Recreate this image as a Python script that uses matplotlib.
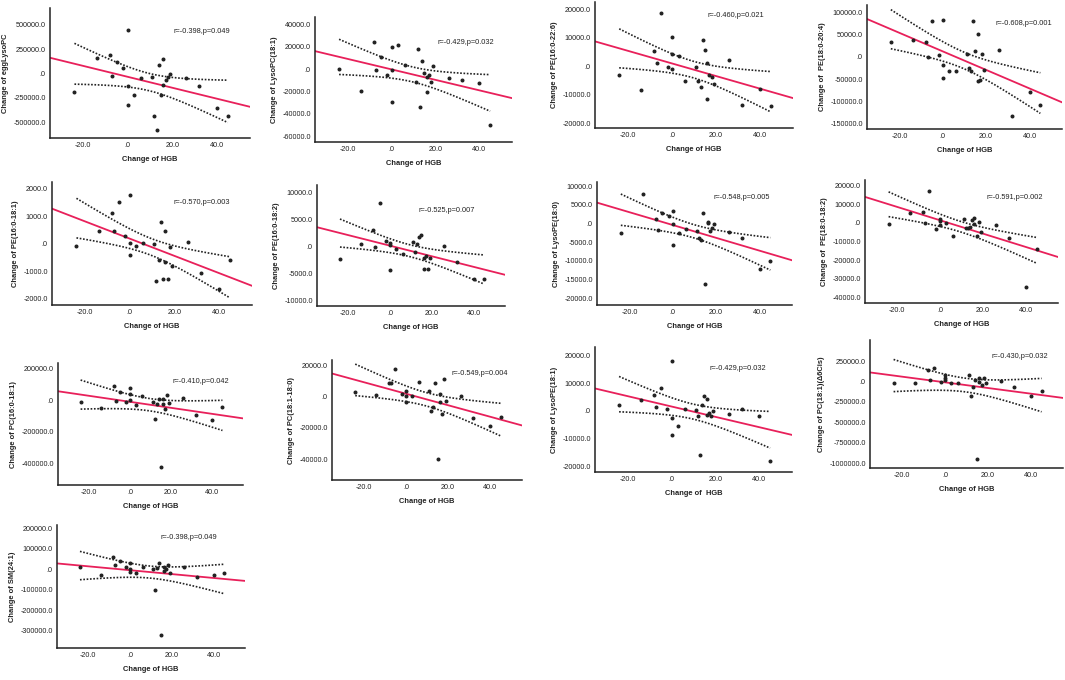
import numpy as np
import matplotlib.pyplot as plt

plt.rcParams['font.family'] = ['Liberation Sans', 'DejaVu Sans']

# change of HGB, same subjects in every panel
hgb = [-24, -14, -8, -7, -5, -2, 0, 0, 0, 3, 6, 11, 12, 13, 14, 15, 16, 16, 17, 18, 19, 26, 32, 40, 45]

# change of each lipid, same subject order as hgb
egglysopc = [-190000, 160000, 185000, -25000, 120000, 55000, 450000, -130000, -320000, -225000, -50000,
             -40000, -440000, -580000, 90000, -220000, 150000, -120000, -70000, -40000, -10000,
             -50000, -130000, -350000, -430000]
lysopc_181 = [0, -19500, 24500, -500, 10500, -5000, 19500, -1000, -29500, 22000, 3500, -11500, 18000,
              -33500, 7500, -3500, -20000, -7000, -5000, -11000, 3000, -8000, -9500, -12000, -50000]
pe_160_226 = [-2900, -8500, 5500, 1300, 18700, -100, 10400, 4500, -1000, 3800, -5000, -300, -5000,
              -7400, 9300, 5700, 1200, -11600, -3200, -3800, -6300, 2200, -13800, -8000, -14100]
pe_180_204 = [32600, 38400, 33300, 700, 80400, 3600, 83300, -17400, -47100, -32600, -31900, 5800,
              -25400, -31900, 79700, 13000, 50700, -54300, -53000, 7200, -30400, 14500, -133300,
              -79700, -107000]
pe_160_181 = [-70, 480, 1110, 460, 1510, 265, 1780, 25, -420, -70, 25, 0, -1360, -580, 780, -1270,
              480, -660, -1270, -120, -810, 80, -1050, -1630, -600]
pe_160_182 = [-2400, 370, 3090, -120, 8090, 930, 700, 300, -4300, -490, -1480, 740, -990, 370, 1730,
              2160, -4140, -2100, -1670, -4140, -2100, 60, -2840, -6000, -6000]
lysope_180 = [-2500, 7860, 1340, -1790, 2860, 1960, 3390, -180, -5800, -2500, -1340, -1960, -3840,
              -4460, 2860, -16070, 450, 180, -2050, -1070, -180, -2320, -3840, -12050, -10000]
pe_180_182 = [-700, 5400, 5900, 0, 17100, -3200, 2000, 1200, -1300, 0, -6800, 2000, -2500, -2500,
              -2300, 1800, 2900, -400, -7000, 500, -4800, -1300, -8300, -34800, -14000]
pc_160_181 = [-10600, -46800, 91500, -2100, 51000, -10600, 76600, 38300, 2100, -31900, 27700, -8500,
              -119000, -25500, 6400, -423000, 10600, -23400, -53200, 34000, -19100, 17000, -95700,
              -127700, -44700]
pc_181_180 = [2800, 600, 8500, 8500, 17700, 1700, 3400, 0, -3600, 0, 8900, 3400, -9400, -6800, 8500,
              -40200, 1300, -3600, -11100, 10900, -3000, 0, -13800, -18900, -13200]
lysope_181 = [2000, 3900, 5700, 1400, 8400, 500, 17800, -2700, -8700, -5400, 800, 200, -1700, -15900,
              2200, 5500, 4200, -1400, -700, -1900, -200, -1100, 500, -1800, -18100]
pc_181_cis = [-20500, -20500, 139000, 16400, 160000, -12300, 82000, 41000, 16400, -20500, -20500,
              73800, -176000, -73800, 16400, -955000, 41000, -8200, -41000, 37000, -24600, 8200,
              -73800, -180000, -123000]
sm_241 = [10000, -30000, 60000, 20000, 40000, 10000, 30000, 0, -15000, -20000, 10000, 0, -100000,
          5000, 30000, -320000, 10000, -10000, 0, 20000, -20000, 10000, -40000, -30000, -20000]

ylabels = ['Change of eggLysoPC', 'Change of LysoPC(18:1)', 'Change of PE(16:0-22:6)',
           'Change of  PE(18:0-20:4)', 'Change of PE(16:0-18:1)', 'Change of PE(16:0-18:2)',
           'Change of LysoPE(18:0)', 'Change of  PE(18:0-18:2)', 'Change of PC(16:0-18:1)',
           'Change of PC(18:1-18:0)', 'Change of LysoPE(18:1)', 'Change of PC(18:1)(Δ6Cis)',
           'Change of SM(24:1)']
stats = ['r=-0.398,p=0.049', 'r=-0.429,p=0.032', 'r=-0.460,p=0.021', 'r=-0.608,p=0.001',
         'r=-0.570,p=0.003', 'r=-0.525,p=0.007', 'r=-0.548,p=0.005', 'r=-0.591,p=0.002',
         'r=-0.410,p=0.042', 'r=-0.549,p=0.004', 'r=-0.429,p=0.032', 'r=-0.430,p=0.032',
         'r=-0.398,p=0.049']
series = [egglysopc, lysopc_181, pe_160_226, pe_180_204, pe_160_181, pe_160_182, lysope_180,
          pe_180_182, pc_160_181, pc_181_180, lysope_181, pc_181_cis, sm_241]
yticks = [np.arange(-500000, 500001, 250000), np.arange(-60000, 40001, 20000),
          np.arange(-20000, 20001, 10000), np.arange(-150000, 100001, 50000),
          np.arange(-2000, 2001, 1000), np.arange(-10000, 10001, 5000),
          np.arange(-20000, 10001, 5000), np.arange(-40000, 20001, 10000),
          np.arange(-400000, 200001, 200000), np.arange(-40000, 20001, 20000),
          np.arange(-20000, 20001, 10000), np.arange(-1000000, 250001, 250000),
          np.arange(-300000, 200001, 100000)]
ylims = [(-660000, 670000), (-65000, 46600), (-21750, 22700), (-161600, 116000), (-2220, 2240),
         (-11000, 11360), (-21800, 11160), (-43200, 23200), (-538000, 238000), (-53400, 23200),
         (-22050, 23000), (-1061000, 508000), (-383000, 215000)]

# axes boxes in pixels: left, right, top, bottom
boxes = [(50, 250, 8, 138), (315, 512, 17, 142), (595, 793, 2, 128), (867, 1062, 5, 129),
         (52, 252, 182, 305), (317, 505, 185, 306), (597, 792, 182, 305), (865, 1058, 180, 303),
         (58, 243, 363, 485), (332, 522, 360, 480), (595, 792, 347, 472), (870, 1063, 340, 468),
         (57, 245, 525, 648)]
text_pos = [(0.62, 0.82), (0.62, 0.80), (0.57, 0.89), (0.66, 0.85), (0.61, 0.83), (0.54, 0.79),
            (0.60, 0.87), (0.63, 0.86), (0.62, 0.85), (0.63, 0.89), (0.58, 0.83), (0.63, 0.875),
            (0.55, 0.90)]

W, H = 1065, 680
fig = plt.figure(figsize=(W / 100, H / 100), dpi=100)
t95 = 2.069  # t(0.975, df=23)


def fmt(v):
    return '.0' if v == 0 else '%.1f' % v


x = np.array(hgb, dtype=float)
for i, y in enumerate(series):
    y = np.array(y, dtype=float)
    l, r, t, b = boxes[i]
    ax = fig.add_axes([l / W, 1 - b / H, (r - l) / W, (b - t) / H])

    n = len(x)
    slope, icpt = np.polyfit(x, y, 1)
    resid = y - (slope * x + icpt)
    s = np.sqrt(np.sum(resid ** 2) / (n - 2))
    sxx = np.sum((x - x.mean()) ** 2)
    xs = np.linspace(x.min(), x.max(), 100)
    half = t95 * s * np.sqrt(1 / n + (xs - x.mean()) ** 2 / sxx)
    fit = slope * xs + icpt

    ax.plot(xs, fit + half, color='#222222', ls=(0, (1, 1)), lw=1.2)
    ax.plot(xs, fit - half, color='#222222', ls=(0, (1, 1)), lw=1.2)
    xl = np.array([-35, 55])
    ax.plot(xl, slope * xl + icpt, color='#e8205a', lw=1.3)
    ax.scatter(x, y, s=3.5, color='#222222', zorder=3)

    ax.set_xlim(-35, 55)
    ax.set_ylim(*ylims[i])
    ax.set_xticks([-20, 0, 20, 40])
    ax.set_xticklabels([fmt(v) for v in [-20, 0, 20, 40]])
    ax.set_yticks(yticks[i])
    ax.set_yticklabels([fmt(v) for v in yticks[i]])
    ax.tick_params(length=0, pad=3, labelsize=5.2, colors='#222222')
    for side in ['top', 'right']:
        ax.spines[side].set_visible(False)
    for side in ['left', 'bottom']:
        ax.spines[side].set_linewidth(1.1)
        ax.spines[side].set_color('#222222')
    xlab = 'Change of  HGB' if i == 10 else 'Change of HGB'
    ax.set_xlabel(xlab, fontsize=5.4, fontweight='bold', labelpad=5, color='#222222')
    ax.set_ylabel(ylabels[i], fontsize=5.4, fontweight='bold', labelpad=3, color='#222222')
    ax.text(text_pos[i][0], text_pos[i][1], stats[i], transform=ax.transAxes,
            fontsize=5.3, va='center', ha='left', color='#222222')

fig.savefig('out.png', dpi=100)
